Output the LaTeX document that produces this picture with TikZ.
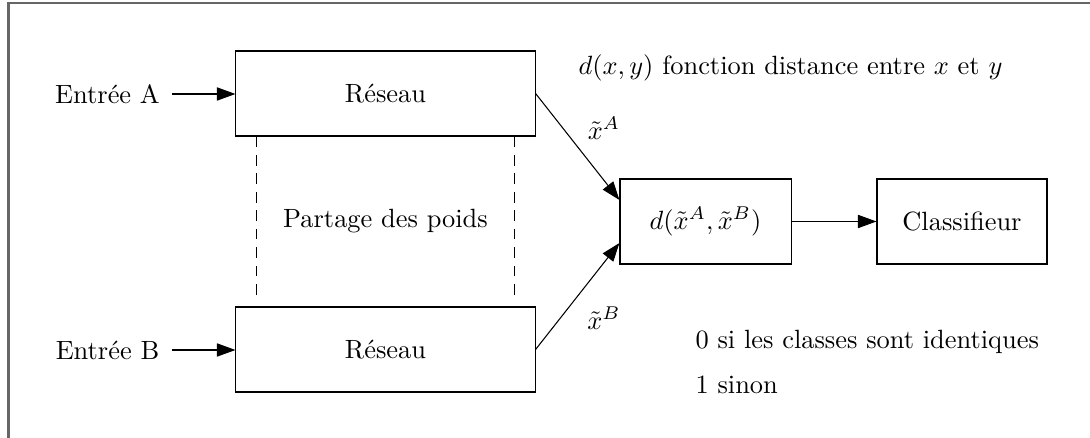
\documentclass[tikz,border=0pt]{standalone}
\usetikzlibrary{arrows.meta,calc}
\begin{document}
\begin{tikzpicture}[x=0.3788pt,y=-0.3788pt,
  box/.style={draw,rectangle,inner sep=0pt,minimum height=32.2pt},
  lbl/.style={inner sep=0pt},
  arr/.style={-{Triangle[length=7pt,width=5pt]}},
  frame/.style={draw=black!60,line width=0.8pt}]
\useasboundingbox (0,0) rectangle (1090,438);
\draw[frame] (8.5,438) -- (8.5,3) -- (1090,3);
% nodes
\node[box,minimum width=113.3pt] (ra) at (385.5,93.5) {Réseau};
\node[box,minimum width=113.3pt] (rb) at (385.5,349.5) {Réseau};
\node[box,minimum width=64.8pt] (d) at (705.5,221.5) {$d(\tilde{x}^A,\tilde{x}^B)$};
\node[box,minimum width=64.4pt] (c) at (962,221.5) {Classifieur};
\node[lbl] (ea) at (107.5,94) {Entrée A};
\node[lbl] (eb) at (107.5,350) {Entrée B};
\node[lbl] (part) at (385.5,221) {Partage des poids};
\node[lbl] (xa) at (604,128) {$\tilde{x}^A$};
\node[lbl] (xb) at (604,318) {$\tilde{x}^B$};
\node[lbl,anchor=west] (dist) at (578,68) {$d(x,y)$ fonction distance entre $x$ et $y$};
\node[lbl,anchor=west] (zero) at (695,342) {0 si les classes sont identiques};
\node[lbl,anchor=west] (one) at (695,385) {1 sinon};
% connectors
\draw[arr] ($(ea.east)+(12,0)$) -- (ea.east -| ra.west);
\draw[arr] ($(eb.east)+(12,0)$) -- (eb.east -| rb.west);
\draw[arr] (ra.east) -- ($(d.west)!0.5!(d.north west)$);
\draw[arr] (rb.east) -- ($(d.west)!0.5!(d.south west)$);
\draw[arr] (d) -- (c);
\draw[dashed,dash pattern=on 4pt off 3pt] ($(ra.south west)+(21,0)$) -- ($(rb.north west)+(21,-10)$);
\draw[dashed,dash pattern=on 4pt off 3pt] ($(ra.south east)+(-21,0)$) -- ($(rb.north east)+(-21,-10)$);
\end{tikzpicture}
\end{document}
